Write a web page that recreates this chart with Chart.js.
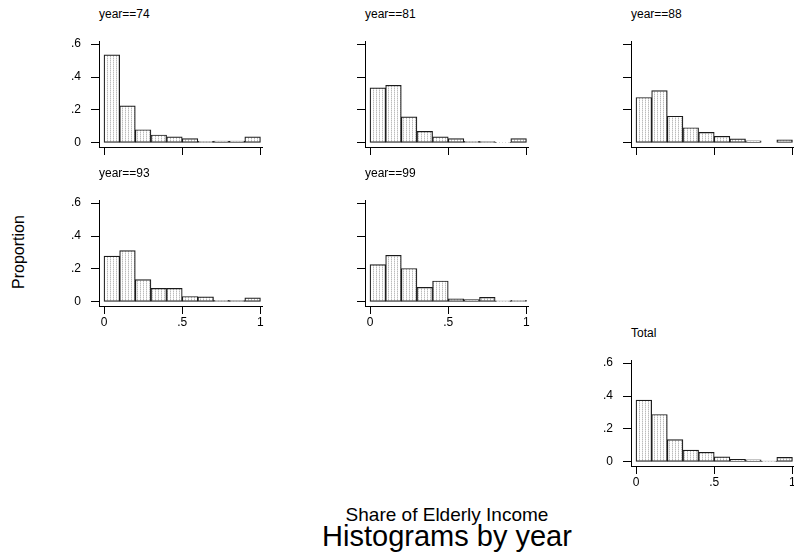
<!DOCTYPE html>
<html>
<head>
<meta charset="utf-8">
<script src="https://cdn.jsdelivr.net/npm/chart.js@4"></script>
<style>
  body { margin: 0; background: #fff; overflow: hidden; }
  #wrap { position: relative; width: 794px; height: 554px; font-family: "Liberation Sans", Arial, sans-serif; color: #000; }
  #wrap canvas { position: absolute; }
  .ptitle { position: absolute; font-size: 12px; line-height: 12px; white-space: nowrap; }
  .atitle { position: absolute; white-space: nowrap; text-align: center; }
</style>
</head>
<body>
<div id="wrap"></div>
<script>
// bins of width 0.1 on Share of Elderly Income
const binCenters = [0.05, 0.15, 0.25, 0.35, 0.45, 0.55, 0.65, 0.75, 0.85, 0.95];

const panelTitles = ["year==74", "year==81", "year==88", "year==93", "year==99", "Total"];

// proportions
const year74 = [0.535, 0.225, 0.080, 0.048, 0.037, 0.026, 0.009, 0.011, 0.011, 0.037];
const year81 = [0.335, 0.350, 0.158, 0.070, 0.037, 0.026, 0.010, 0.008, 0.004, 0.026];
const year88 = [0.276, 0.318, 0.162, 0.092, 0.064, 0.040, 0.025, 0.013, 0.000, 0.018];
const year93 = [0.278, 0.312, 0.135, 0.082, 0.082, 0.033, 0.030, 0.010, 0.008, 0.025];
const year99 = [0.227, 0.283, 0.203, 0.088, 0.127, 0.019, 0.014, 0.027, 0.006, 0.010];
const total = [0.376, 0.288, 0.136, 0.071, 0.058, 0.030, 0.016, 0.013, 0.005, 0.027];

const yTicks = [0, 0.2, 0.4, 0.6];
const yTickLabels = ["0", ".2", ".4", ".6"];
const xTicks = [0, 0.5, 1];
const xTickLabels = ["0", ".5", "1"];

const xAxisTitle = "Share of Elderly Income";
const yAxisTitle = "Proportion";
const mainTitle = "Histograms by year";

Chart.defaults.font.family = '"Liberation Sans", Arial, sans-serif';
Chart.defaults.font.size = 12;
Chart.defaults.color = "#000";

const wrap = document.getElementById("wrap");

function makeFill() {
  const c = document.createElement("canvas");
  c.width = 3;
  c.height = 2;
  const g = c.getContext("2d");
  g.fillStyle = "#fff";
  g.fillRect(0, 0, 3, 2);
  g.fillStyle = "#bcbcbc";
  g.fillRect(1, 0, 1, 1);
  g.fillStyle = "#e0e0e0";
  g.fillRect(1, 1, 1, 1);
  return g.createPattern(c, "repeat");
}

// panel layout: where the y axis line sits and where the plot top is
const panels = [
  { data: year74, left: 99, top: 30, yLab: true, xLab: false },
  { data: year81, left: 365, top: 30, yLab: false, xLab: false },
  { data: year88, left: 631, top: 30, yLab: false, xLab: false },
  { data: year93, left: 99, top: 189, yLab: true, xLab: true },
  { data: year99, left: 365, top: 189, yLab: false, xLab: true },
  { data: total, left: 631, top: 349, yLab: true, xLab: true },
];

const Y_W = 50, X_H = 30, PAD_T = 6, PAD_R = 8, AREA_W = 163, AREA_H = 117;

function renderPanel(p, idx) {
  const canvas = document.createElement("canvas");
  canvas.width = Y_W + AREA_W + PAD_R;
  canvas.height = PAD_T + AREA_H + X_H;
  canvas.style.left = (p.left - Y_W) + "px";
  canvas.style.top = (p.top - PAD_T) + "px";
  wrap.appendChild(canvas);

  const t = document.createElement("div");
  t.className = "ptitle";
  t.textContent = panelTitles[idx];
  t.style.left = p.left + "px";
  t.style.top = (p.top - 22) + "px";
  wrap.appendChild(t);

  const points = [];
  for (let i = 0; i < binCenters.length; i++) {
    points.push({ x: binCenters[i], y: p.data[i] });
  }

  const config = {
    type: "bar",
    data: {
      datasets: [
        {
          data: points,
          backgroundColor: makeFill(),
          borderColor: "#1a1a1a",
          borderWidth: 1.2,
          borderSkipped: false,
          barPercentage: 1,
          categoryPercentage: 1,
        },
      ],
    },
    options: {
      responsive: false,
      animation: false,
      devicePixelRatio: 1,
      layout: { padding: { top: PAD_T, right: PAD_R, left: 0, bottom: 0 } },
      plugins: { legend: { display: false }, tooltip: { enabled: false } },
      scales: {
        x: {
          type: "linear",
          min: -0.032,
          max: 1.01,
          offset: false,
          grid: { offset: false, drawOnChartArea: false, drawTicks: true, tickLength: 8, color: "#000" },
          border: { display: true, color: "#000", width: 1 },
          ticks: {
            padding: 1,
            maxRotation: 0,
            autoSkip: false,
            callback: (v) => (p.xLab ? xTickLabels[xTicks.indexOf(v)] : ""),
          },
          afterBuildTicks: (s) => { s.ticks = xTicks.map((v) => ({ value: v })); },
          afterFit: (s) => { s.height = X_H; },
        },
        y: {
          min: -0.025,
          max: 0.618,
          grid: { drawOnChartArea: false, drawTicks: true, tickLength: 8, color: "#000" },
          border: { display: true, color: "#000", width: 1 },
          ticks: {
            padding: 10,
            autoSkip: false,
            callback: (v) => (p.yLab ? yTickLabels[yTicks.indexOf(v)] : ""),
          },
          afterBuildTicks: (s) => { s.ticks = yTicks.map((v) => ({ value: v })); },
          afterFit: (s) => { s.width = Y_W; },
        },
      },
    },
  };
  new Chart(canvas, config);
}

panels.forEach(renderPanel);

function addTitle(text, css) {
  const d = document.createElement("div");
  d.className = "atitle";
  d.textContent = text;
  Object.assign(d.style, css);
  wrap.appendChild(d);
}

addTitle(yAxisTitle, { left: "-31px", top: "243px", width: "100px", fontSize: "16px", lineHeight: "18px", transform: "rotate(-90deg)" });
addTitle(xAxisTitle, { left: "297px", top: "505px", width: "300px", fontSize: "19px", lineHeight: "20px" });
addTitle(mainTitle, { left: "247px", top: "521px", width: "400px", fontSize: "29px", lineHeight: "30px" });
</script>
</body>
</html>
